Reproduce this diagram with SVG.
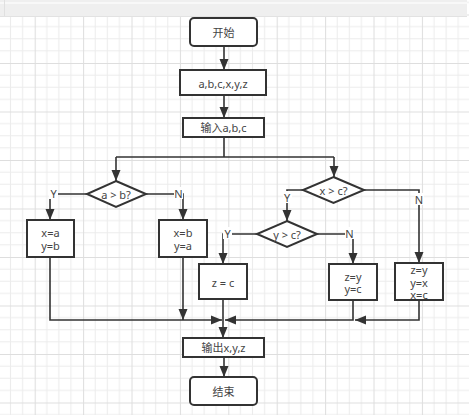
<svg xmlns="http://www.w3.org/2000/svg" width="469" height="415" viewBox="0 0 469 415">
<defs>
<pattern id="grid" patternUnits="userSpaceOnUse" x="34.7" y="14.5" width="48.4" height="48.5">
<rect width="48.4" height="48.5" fill="#ffffff"/>
<path d="M12.1 0V48.5M24.2 0V48.5M36.3 0V48.5M0 12.1H48.4M0 24.25H48.4M0 36.4H48.4" stroke="#ececec" stroke-width="1" fill="none"/>
<path d="M0.5 0V48.5M0 0.5H48.4" stroke="#dedede" stroke-width="1" fill="none"/>
</pattern>
<marker id="arr" markerUnits="userSpaceOnUse" markerWidth="12" markerHeight="10" refX="11" refY="5" orient="auto">
<path d="M0 0.5L11 5L0 9.5Z" fill="#333"/>
</marker>
<style>
.box{fill:#fff;stroke:#333;stroke-width:2}
.t{font-family:"Noto Sans","Noto Sans CJK SC",sans-serif;font-size:11px;fill:#444;text-anchor:middle;dominant-baseline:central}
.c{fill:none;stroke:#333;stroke-width:1.6}
.lb{fill:#fff}
</style>
</defs>
<rect width="469" height="415" fill="url(#grid)"/>
<rect x="0" y="0" width="467" height="16" fill="#efefef"/>
<rect x="0" y="2" width="467" height="2" fill="#f8f8f8"/>
<line x1="0" y1="16.5" x2="467" y2="16.5" stroke="#e2e2e2"/>
<line x1="4.5" y1="0" x2="4.5" y2="16" stroke="#e0e0e0"/>

<g id="connectors">
<path class="c" d="M224 46V70" marker-end="url(#arr)"/>
<path class="c" d="M224 95V118" marker-end="url(#arr)"/>
<path class="c" d="M224 137V157"/>
<path class="c" d="M116 157H334"/>
<path class="c" d="M116 157V181" marker-end="url(#arr)"/>
<path class="c" d="M334 157V177" marker-end="url(#arr)"/>
<path class="c" d="M87 194H50V220" marker-end="url(#arr)"/>
<path class="c" d="M146 194H183V220" marker-end="url(#arr)"/>
<path class="c" d="M50 257V320H222" marker-end="url(#arr)"/>
<path class="c" d="M183 257V320" marker-end="url(#arr)"/>
<path class="c" d="M303 190H287V221" marker-end="url(#arr)"/>
<path class="c" d="M364 190H419V263" marker-end="url(#arr)"/>
<path class="c" d="M257 234H223V264" marker-end="url(#arr)"/>
<path class="c" d="M317 234H353V264" marker-end="url(#arr)"/>
<path class="c" d="M223 299V338" marker-end="url(#arr)"/>
<path class="c" d="M419 300V320H355" marker-end="url(#arr)"/>
<path class="c" d="M353 300V320H225" marker-end="url(#arr)"/>
<path class="c" d="M224 357V377" marker-end="url(#arr)"/>
<rect class="lb" x="49" y="187" width="9" height="12"/>
<text class="t" x="53.5" y="193">Y</text>
<rect class="lb" x="174" y="187" width="9" height="12"/>
<text class="t" x="178.5" y="193">N</text>
<rect class="lb" x="283" y="191" width="9" height="12"/>
<text class="t" x="287" y="197">Y</text>
<rect class="lb" x="415" y="193" width="9" height="12"/>
<text class="t" x="419" y="199">N</text>
<rect class="lb" x="223" y="227" width="9" height="12"/>
<text class="t" x="227.5" y="233">Y</text>
<rect class="lb" x="345" y="227" width="9" height="12"/>
<text class="t" x="349.5" y="233">N</text>
</g>

<g id="start"><rect class="box" x="190" y="18" width="67" height="28" rx="4"/><text class="t" x="223.5" y="32">开始</text></g>
<g id="vars"><rect class="box" x="180" y="70" width="86" height="25"/><text class="t" x="223" y="83">a,b,c,x,y,z</text></g>
<g id="input"><rect class="box" x="183" y="118" width="81" height="19"/><text class="t" x="223.5" y="127.5">输入a,b,c</text></g>
<g id="dec-ab"><path class="box" d="M116 181L146 194L116 207L87 194Z"/><text class="t" x="116" y="194">a &gt; b?</text></g>
<g id="box-xa"><rect class="box" x="27" y="220" width="47" height="37"/><text class="t" x="50.5" y="232">x=a</text><text class="t" x="50.5" y="245">y=b</text></g>
<g id="box-xb"><rect class="box" x="159" y="220" width="48" height="37"/><text class="t" x="183" y="232">x=b</text><text class="t" x="183" y="245">y=a</text></g>
<g id="dec-xc"><path class="box" d="M333.5 177L364 190L333.5 203L303 190Z"/><text class="t" x="333.5" y="190">x &gt; c?</text></g>
<g id="dec-yc"><path class="box" d="M287 221L317 234L287 247L257 234Z"/><text class="t" x="287" y="234">y &gt; c?</text></g>
<g id="box-zc"><rect class="box" x="199" y="264" width="48" height="35"/><text class="t" x="223" y="282">z = c</text></g>
<g id="box-zy"><rect class="box" x="329" y="264" width="48" height="36"/><text class="t" x="353" y="276">z=y</text><text class="t" x="353" y="288">y=c</text></g>
<g id="box-zyx"><rect class="box" x="395" y="263" width="48" height="37"/><text class="t" x="419" y="269">z=y</text><text class="t" x="419" y="282">y=x</text><text class="t" x="419" y="294">x=c</text></g>
<g id="output"><rect class="box" x="183" y="338" width="81" height="19"/><text class="t" x="223.5" y="347.5">输出x,y,z</text></g>
<g id="end"><rect class="box" x="190" y="377" width="67" height="28" rx="4"/><text class="t" x="223.5" y="391">结束</text></g>
</svg>
